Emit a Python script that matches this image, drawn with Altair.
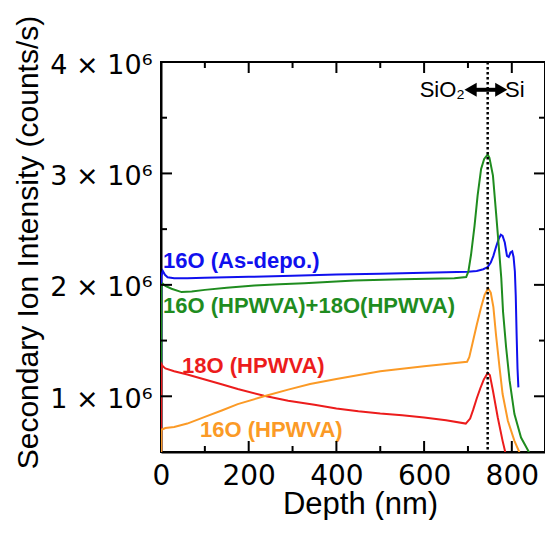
import altair as alt
import pandas as pd

# ---- data: depth (nm) and intensity (in units of 1e6 counts/s) ----
blue_depth = [0, 1, 4, 9, 15, 30, 60, 100, 200, 300, 400, 500, 600, 700, 720, 735, 745, 752, 758, 764,
              770, 775, 779, 784, 789, 793, 797, 801, 804, 807, 809, 811, 813, 815]
blue_val = [0.2, 2.08, 2.125, 2.09, 2.068, 2.06, 2.06, 2.063, 2.072, 2.082, 2.092, 2.10, 2.108, 2.118, 2.125,
            2.14, 2.16, 2.20, 2.26, 2.34, 2.41, 2.45, 2.44, 2.38, 2.26, 2.25, 2.29, 2.30, 2.25, 2.12,
            1.9, 1.55, 1.25, 1.08]

green_depth = [0, 1, 4, 10, 24, 47, 70, 100, 150, 213, 270, 327, 441, 550, 669, 696, 701, 707, 715, 722,
               730, 737, 745, 749, 757, 764, 770, 776, 780, 787, 795, 806, 821, 839, 860]
green_val = [0.2, 1.98, 2.01, 1.99, 1.965, 1.935, 1.94, 1.955, 1.975, 1.994, 2.005, 2.014, 2.04, 2.05, 2.059,
             2.07, 2.12, 2.27, 2.53, 2.80, 3.04, 3.13, 3.17, 3.14, 2.98, 2.65, 2.36, 2.06, 1.76, 1.44,
             1.14, 0.84, 0.63, 0.50, 0.38]

red_depth = [0, 1, 4, 10, 30, 60, 100, 140, 175, 235, 290, 350, 400, 450, 500, 550, 600, 650, 695, 705,
             712, 720, 728, 736, 745, 750, 757, 768, 779, 785, 800]
red_val = [0.2, 1.29, 1.27, 1.25, 1.225, 1.195, 1.15, 1.105, 1.065, 1.005, 0.96, 0.925, 0.89, 0.865, 0.845,
           0.83, 0.81, 0.785, 0.755, 0.80, 0.88, 0.98, 1.07, 1.15, 1.21, 1.19, 1.05, 0.81, 0.60, 0.50, 0.35]

orange_depth = [0, 1, 10, 30, 60, 100, 140, 175, 235, 290, 340, 400, 500, 600, 698, 703, 710, 720, 730, 738,
                746, 752, 758, 764, 772, 779, 791, 806, 817, 840]
orange_val = [0.2, 0.70, 0.715, 0.725, 0.755, 0.815, 0.875, 0.93, 1.0, 1.06, 1.11, 1.155, 1.225, 1.27, 1.31,
              1.35, 1.47, 1.64, 1.80, 1.91, 1.97, 1.93, 1.80, 1.55, 1.26, 1.02, 0.78, 0.60, 0.50, 0.36]

series_names = ["16O (As-depo.)", "16O (HPWVA)+18O(HPWVA)", "18O (HPWVA)", "16O (HPWVA)"]
series_colors = ["#1010ee", "#1f8c1f", "#ec1c1c", "#fb9a26"]
label_x = [4.6, 4.6, 48, 89]
label_y = [2.148, 1.747, 1.2125, 0.634]

interface_depth = [745]
arrow_x = [707]
arrow_x2 = [775]
arrow_y = [3.7506]
head_x = [706, 776]
head_dir = ["l", "r"]
region_text = ["SiO₂", "Si"]
region_x = [693, 784.5]
region_y = 3.688

x_label_values = [0, 200, 400, 600, 800]
y_label_values = [1e6, 2e6, 3e6, 4e6]
x_major_ticks = [200, 400, 600, 800]
x_minor_ticks = [100, 300, 500, 700]
y_major_ticks = [1e6, 2e6, 3e6]
y_minor_ticks = [1.5e6, 2.5e6, 3.5e6]

W, H = 384, 390
X0, X1 = 0, 875.7
Y0, Y1 = 0.5e6, 4e6
XS = alt.Scale(domain=[X0, X1], nice=False, zero=False)
YS = alt.Scale(domain=[Y0, Y1], nice=False, zero=False)
MAJ, MIN = 11, 6                      # tick lengths in pixels
PX_X = (X1 - X0) / W                  # data units per pixel
PX_Y = (Y1 - Y0) / H

X_AXIS = alt.Axis(orient="bottom", values=x_label_values, ticks=False, tickSize=0, grid=False,
                  labelFont="DejaVu Sans", labelFontSize=28, labelColor="black", labelPadding=10,
                  labelFlush=False, labelOverlap=False, domain=True, domainWidth=2, domainColor="black",
                  title="Depth (nm)", titleFont="Liberation Sans", titleFontSize=31,
                  titleFontWeight="normal", titleColor="black", titleX=199, titleY=61,
                  titleBaseline="alphabetic", titleAlign="center")
Y_AXIS = alt.Axis(orient="left", values=y_label_values, ticks=False, tickSize=0, grid=False,
                  labelExpr="format(datum.value/1000000, 'd') + ' × 10⁶'",
                  labelFont="DejaVu Sans", labelFontSize=27, labelColor="black", labelPadding=9,
                  labelFlush=False, labelOverlap=False, labelBaseline="middle", labelOffset=3,
                  domain=True, domainWidth=2, domainColor="black",
                  title="Secondary Ion Intensity (counts/s)", titleFont="Liberation Sans",
                  titleFontSize=30, titleFontWeight="normal", titleColor="black",
                  titleAngle=270, titleX=-124, titleY=180, titleBaseline="alphabetic",
                  titleAlign="center")


def X(field):
    return alt.X(field, scale=XS, axis=X_AXIS)


def Y(field):
    return alt.Y(field, scale=YS, axis=Y_AXIS)


def line_layer(depth, vals, color):
    df = pd.DataFrame({"depth": depth, "val": [v * 1e6 for v in vals]})
    return alt.Chart(df).mark_line(color=color, strokeWidth=2, clip=True).encode(
        x=X("depth:Q"), y=Y("val:Q"), order=alt.Order("depth:Q"))


# inward tick marks on all four sides, as short two-point line segments through the scales
tick_rows = []
tid = 0
for values, length in ((x_major_ticks, MAJ), (x_minor_ticks, MIN)):
    for v in values:
        for edge, sgn in ((Y0, 1), (Y1, -1)):
            tick_rows.append({"id": tid, "k": 0, "x": v, "y": edge})
            tick_rows.append({"id": tid, "k": 1, "x": v, "y": edge + sgn * length * PX_Y})
            tid += 1
for values, length in ((y_major_ticks, MAJ), (y_minor_ticks, MIN)):
    for v in values:
        for edge, sgn in ((X0, 1), (X1, -1)):
            tick_rows.append({"id": tid, "k": 0, "x": edge, "y": v})
            tick_rows.append({"id": tid, "k": 1, "x": edge + sgn * length * PX_X, "y": v})
            tid += 1
ticks = alt.Chart(pd.DataFrame(tick_rows)).mark_line(color="black", strokeWidth=2).encode(
    x=X("x:Q"), y=Y("y:Q"), detail="id:N", order=alt.Order("k:Q"))

blue = line_layer(blue_depth, blue_val, series_colors[0])
green = line_layer(green_depth, green_val, series_colors[1])
red = line_layer(red_depth, red_val, series_colors[2])
orange = line_layer(orange_depth, orange_val, series_colors[3])

labels_df = pd.DataFrame({"x": label_x, "y": [v * 1e6 for v in label_y], "name": series_names})
labels = alt.Chart(labels_df).mark_text(align="left", baseline="alphabetic", font="Liberation Sans",
                                        fontSize=22, fontWeight="bold").encode(
    x=X("x:Q"), y=Y("y:Q"), text="name:N",
    color=alt.Color("name:N", scale=alt.Scale(domain=series_names, range=series_colors), legend=None),
)

vline = alt.Chart(pd.DataFrame({"x": interface_depth})).mark_rule(
    color="black", strokeWidth=2.5, strokeDash=[2.5, 2.5]).encode(x=X("x:Q"))

arrow_df = pd.DataFrame({"x": arrow_x, "x2": arrow_x2, "y": [v * 1e6 for v in arrow_y]})
shaft = alt.Chart(arrow_df).mark_rule(color="black", strokeWidth=4).encode(
    x=X("x:Q"), x2="x2:Q", y=Y("y:Q"))
heads_df = pd.DataFrame({"x": head_x, "y": [arrow_y[0] * 1e6] * 2, "dir": head_dir})
heads = alt.Chart(heads_df).mark_point(filled=True, size=200, color="black", opacity=1).encode(
    x=X("x:Q"), y=Y("y:Q"),
    shape=alt.Shape("dir:N", scale=alt.Scale(domain=["l", "r"], range=["triangle-left", "triangle-right"]),
                    legend=None),
)

region_df = pd.DataFrame({"x": region_x, "y": [region_y * 1e6] * 2, "t": region_text})
region_left = alt.Chart(region_df.iloc[[0]]).mark_text(
    align="right", baseline="alphabetic", font="Liberation Sans", fontSize=22, color="black").encode(
    x=X("x:Q"), y=Y("y:Q"), text="t:N")
region_right = alt.Chart(region_df.iloc[[1]]).mark_text(
    align="left", baseline="alphabetic", font="Liberation Sans", fontSize=22, color="black").encode(
    x=X("x:Q"), y=Y("y:Q"), text="t:N")

chart = alt.layer(
    blue, green, red, orange, vline, labels, shaft, heads, region_left, region_right, ticks
).properties(
    width=W, height=H,
    padding={"left": 153, "top": 54, "right": 0, "bottom": 68},
    autosize=alt.AutoSizeParams(type="none"),
    background="white",
).configure_view(stroke="black", strokeWidth=2)

chart.save("out.html", embed_options={"renderer": "svg", "actions": False})
